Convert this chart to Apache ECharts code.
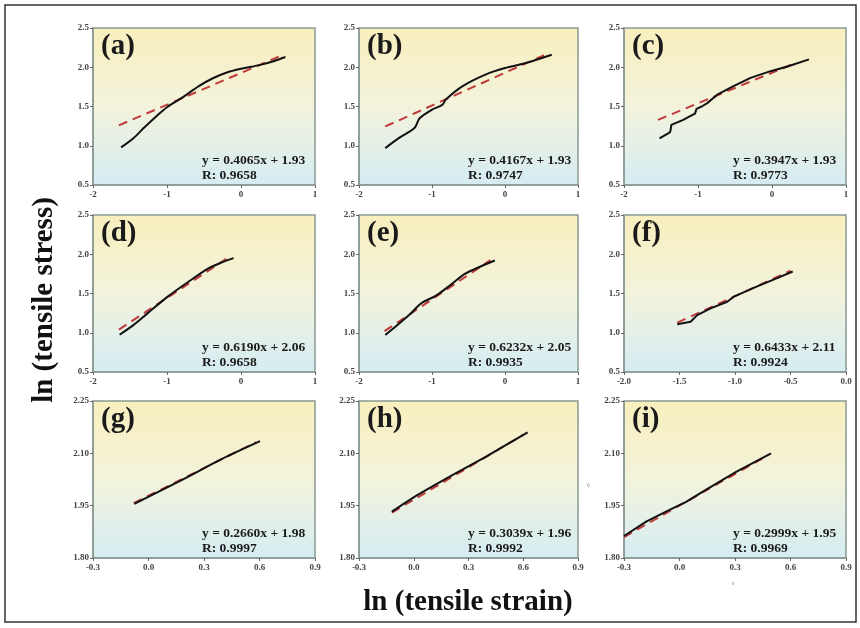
<!DOCTYPE html>
<html><head><meta charset="utf-8">
<script src="https://cdn.jsdelivr.net/npm/echarts@6/dist/echarts.min.js"></script>
<style>html,body{margin:0;padding:0;background:#fff}#c{width:860px;height:628px}</style>
</head><body><div id="c"></div>
<script>
// ---- data ----
const panelNames = ['(a)','(b)','(c)','(d)','(e)','(f)','(g)','(h)','(i)'];
const equations = ['y = 0.4065x + 1.93','y = 0.4167x + 1.93','y = 0.3947x + 1.93',
                   'y = 0.6190x + 2.06','y = 0.6232x + 2.05','y = 0.6433x + 2.11',
                   'y = 0.2660x + 1.98','y = 0.3039x + 1.96','y = 0.2999x + 1.95'];
const rValues = ['R: 0.9658','R: 0.9747','R: 0.9773','R: 0.9658','R: 0.9935','R: 0.9924','R: 0.9997','R: 0.9992','R: 0.9969'];

const curveA = [[-1.62,0.98],[-1.45,1.10],[-1.315,1.225],[-1.15,1.37],[-1.0,1.49],[-0.8,1.61],[-0.57,1.76],[-0.38,1.86],[-0.2,1.93],[0,1.98],[0.26,2.03],[0.45,2.08],[0.6,2.13]];
const curveB = [[-1.64,0.97],[-1.45,1.10],[-1.24,1.225],[-1.17,1.35],[-1.0,1.46],[-0.86,1.52],[-0.81,1.59],[-0.58,1.76],[-0.26,1.91],[0,1.99],[0.27,2.05],[0.64,2.16]];
const curveC = [[-1.52,1.094],[-1.38,1.17],[-1.37,1.20],[-1.36,1.265],[-1.2,1.33],[-1.1,1.38],[-1.04,1.41],[-1.02,1.47],[-0.95,1.50],[-0.88,1.54],[-0.74,1.65],[-0.52,1.76],[-0.29,1.865],[-0.02,1.95],[0.21,2.01],[0.5,2.10]];
const curveD = [[-1.64,0.975],[-1.45,1.10],[-1.26,1.25],[-0.99,1.46],[-0.71,1.65],[-0.44,1.82],[-0.25,1.90],[-0.1,1.95]];
const curveE = [[-1.64,0.97],[-1.31,1.23],[-1.14,1.38],[-0.95,1.47],[-0.73,1.62],[-0.55,1.75],[-0.32,1.85],[-0.14,1.92]];
const curveF = [[-1.52,1.107],[-1.4,1.14],[-1.34,1.225],[-1.22,1.31],[-1.07,1.395],[-1.01,1.46],[-0.8,1.59],[-0.62,1.695],[-0.48,1.78]];
const curveG = [[-0.077,1.955],[0.171,2.021],[0.4,2.085],[0.603,2.135]];
const curveH = [[-0.12,1.933],[0,1.974],[0.214,2.038],[0.394,2.09],[0.624,2.16]];
const curveI = [[-0.3,1.863],[-0.18,1.904],[-0.054,1.938],[0.036,1.961],[0.126,1.99],[0.306,2.047],[0.495,2.10]];

const fitA = [[-1.65,1.26],[0.55,2.15]];
const fitB = [[-1.64,1.246],[0.6,2.18]];
const fitC = [[-1.54,1.33],[0.28,2.04]];
const fitD = [[-1.65,1.04],[-0.2,1.94]];
const fitE = [[-1.65,1.02],[-0.2,1.925]];
const fitF = [[-1.52,1.13],[-0.5,1.79]];
const fitG = [[-0.08,1.957],[0.58,2.132]];
const fitH = [[-0.12,1.930],[0.6,2.153]];
const fitI = [[-0.3,1.860],[0.48,2.095]];

const curves = [curveA,curveB,curveC,curveD,curveE,curveF,curveG,curveH,curveI];
const fits = [fitA,fitB,fitC,fitD,fitE,fitF,fitG,fitH,fitI];

// axis ranges [min,max,interval,decimals]
const xRanges = [[-2,1,1,0],[-2,1,1,0],[-2,1,1,0],[-2,1,1,0],[-2,1,1,0],[-2,0,0.5,1],[-0.3,0.9,0.3,1],[-0.3,0.9,0.3,1],[-0.3,0.9,0.3,1]];
const yRanges = [[0.5,2.5,0.5,1],[0.5,2.5,0.5,1],[0.5,2.5,0.5,1],[0.5,2.5,0.5,1],[0.5,2.5,0.5,1],[0.5,2.5,0.5,1],[1.8,2.25,0.15,2],[1.8,2.25,0.15,2],[1.8,2.25,0.15,2]];
const smoothFlags = [0.3,0.3,false,0.3,0.3,false,0.2,0.2,false];

// ---- layout ----
const colLeft = [93, 359, 624];
const colWidth = [222, 219, 222];
const rowTop = [28, 215, 401];
const rowHeight = 157;
const serif = '"Liberation Serif", "DejaVu Serif", serif';
const frameColor = '#8a9a92';

const grids = [], xAxes = [], yAxes = [], series = [], graphics = [];
for (let i = 0; i < 9; i++) {
  const r = Math.floor(i/3), c = i%3;
  const L = colLeft[c], T = rowTop[r], W = colWidth[c], H = rowHeight;
  grids.push({left:L, top:T, width:W, height:H, show:true, borderColor:frameColor, borderWidth:1.5,
    backgroundColor:{type:'linear',x:0,y:0,x2:0,y2:1,colorStops:[
      {offset:0,color:'#f8efbd'},{offset:0.5,color:'#f3f3dc'},{offset:1,color:'#d5ecf3'}]}});
  const xr = xRanges[i], yr = yRanges[i];
  xAxes.push({gridIndex:i, type:'value', min:xr[0], max:xr[1], interval:xr[2],
    axisLine:{show:true, onZero:false, lineStyle:{color:frameColor, width:1.5}},
    axisTick:{show:true, length:3, lineStyle:{color:'#666'}},
    splitLine:{show:false},
    axisLabel:{fontFamily:serif, fontWeight:'bold', fontSize:9, color:'#444', margin:5,
      formatter:(v)=>Number(v).toFixed(xr[3])}});
  yAxes.push({gridIndex:i, type:'value', min:yr[0], max:yr[1], interval:yr[2],
    axisLine:{show:true, onZero:false, lineStyle:{color:frameColor, width:1.5}},
    axisTick:{show:true, length:3, lineStyle:{color:'#666'}},
    splitLine:{show:false},
    axisLabel:{fontFamily:serif, fontWeight:'bold', fontSize:9, color:'#444', margin:4,
      formatter:(v)=>Number(v).toFixed(yr[3])}});
  series.push({type:'line', xAxisIndex:i, yAxisIndex:i, data:fits[i], symbol:'none', z:2,
    lineStyle:{color:'#c0393b', width:2, type:[9,6]}, animation:false});
  series.push({type:'line', xAxisIndex:i, yAxisIndex:i, data:curves[i], symbol:'none', z:3,
    smooth:smoothFlags[i], lineStyle:{color:'#111', width:2}, animation:false});
  graphics.push({type:'text', left:L+8, top:T+4,
    style:{text:panelNames[i], font:'bold 29px '+serif, fill:'#1a1a1a'}});
  graphics.push({type:'text', left:L+109, top:T+H-31,
    style:{text:equations[i], font:'bold 13.5px '+serif, fill:'#1a1a1a'}});
  graphics.push({type:'text', left:L+109, top:T+H-16,
    style:{text:rValues[i], font:'bold 13.5px '+serif, fill:'#1a1a1a'}});
}
graphics.push({type:'rect', shape:{x:5, y:5, width:851, height:617}, silent:true, z:-1,
  style:{fill:'none', stroke:'#333', lineWidth:1.5}});
graphics.push({type:'text', x:45, y:300, rotation:Math.PI/2,
  style:{text:'ln (tensile stress)', font:'bold 29px '+serif, fill:'#111', align:'center', verticalAlign:'middle'}});
graphics.push({type:'text', x:468, y:603,
  style:{text:'ln (tensile strain)', font:'bold 29px '+serif, fill:'#111', align:'center', verticalAlign:'middle'}});
graphics.push({type:'text', x:588, y:485, rotation:Math.PI/2,
  style:{text:'σ', font:'7px '+serif, fill:'#777', align:'center', verticalAlign:'middle'}});
graphics.push({type:'text', x:733, y:583,
  style:{text:'ε', font:'6px '+serif, fill:'#888', align:'center', verticalAlign:'middle'}});

const chart = echarts.init(document.getElementById('c'), null, {renderer:'canvas'});
chart.setOption({animation:false, backgroundColor:'#fff', grid:grids, xAxis:xAxes, yAxis:yAxes, series:series, graphic:graphics});
</script></body></html>
